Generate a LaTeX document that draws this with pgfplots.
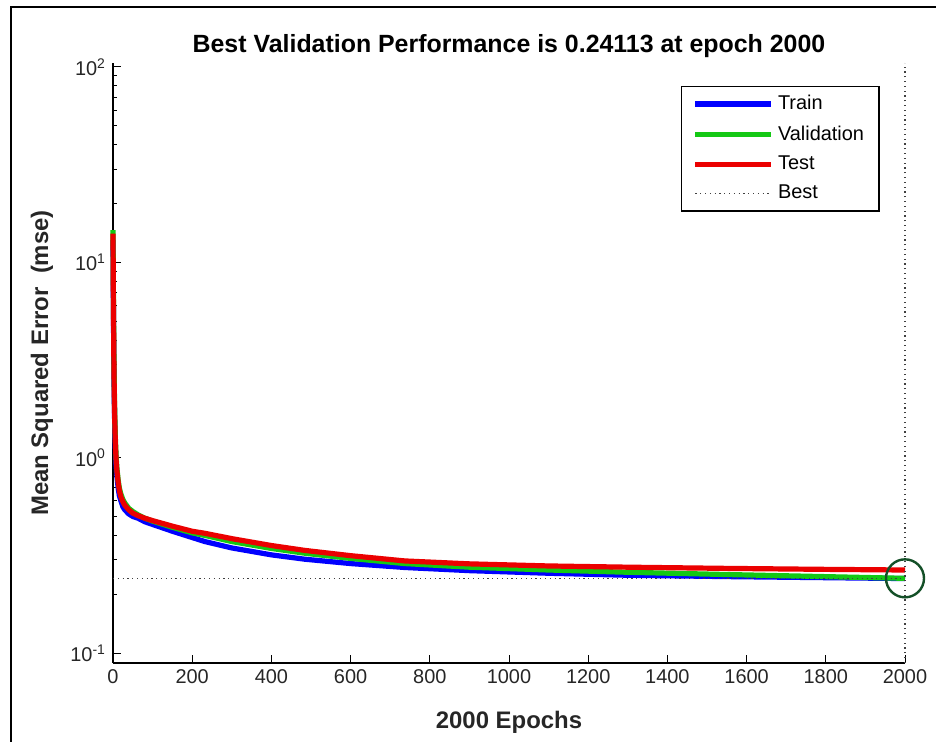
\documentclass[border=0pt]{standalone}
\usepackage{fontspec}
\setmainfont{Liberation Sans}
\usepackage{pgfplots}
\pgfplotsset{compat=1.18}
\usetikzlibrary{calc}
\definecolor{trainblue}{RGB}{0,0,255}
\definecolor{valgreen}{RGB}{20,200,20}
\definecolor{testred}{RGB}{235,0,0}
\definecolor{bestgreen}{RGB}{20,80,40}
\definecolor{ticktext}{RGB}{38,38,38}

\begin{document}
\begin{tikzpicture}
\begin{axis}[
  scale only axis, width=396bp, height=300bp,
  ymode=log, xmin=0, xmax=2000, ymin=0.0889, ymax=104.7,
  clip=false,
  axis x line=bottom, axis y line=left,
  axis line style={-, line width=0.6bp},
  tick align=inside, major tick length=4bp, minor tick length=2.2bp,
  every tick/.style={black, line width=0.5bp},
  xtick={0,200,...,2000},
  ytick={0.1,1,10,100},
  minor ytick={0.2,0.3,0.4,0.5,0.6,0.7,0.8,0.9,2,3,4,5,6,7,8,9,20,30,40,50,60,70,80,90},
  yticklabels={10\textsuperscript{-1},10\textsuperscript{0},10\textsuperscript{1},10\textsuperscript{2}},
  /pgf/number format/assume math mode=true,
  /pgf/number format/1000 sep={},
  tick label style={font=\fontsize{10}{12}\selectfont, text=ticktext},
  every axis title shift=0pt,
  title={Best Validation Performance is 0.24113 at epoch 2000},
  title style={font=\fontsize{12.5}{15}\selectfont\bfseries, at={(axis description cs:0.5,1.0167)}, anchor=base},
  xlabel={2000 Epochs},
  ylabel={Mean Squared Error\ \ (mse)},
  label style={font=\fontsize{12}{14}\selectfont\bfseries, text=ticktext},
  xlabel style={at={(axis description cs:0.5,-0.0983)}, anchor=center},
  ylabel style={at={(axis description cs:-0.0896,0.5)}, anchor=center},
  legend style={at={(axis description cs:0.968,0.962)}, anchor=north east,
    draw=black, line width=0.6bp, font=\fontsize{10}{12}\selectfont,
    inner xsep=5.5bp, inner ysep=2.5bp, row sep=2.4bp},
  legend cell align=left,
  legend image code/.code={\draw[#1] (0bp,0bp) -- (38bp,0bp);},
]
\coordinate (ll) at (rel axis cs:0,0);

% train
\addplot[trainblue, line width=2.6bp] coordinates {
(0,13) (1,6) (2,3.2) (3,2.1) (4,1.6) (5,1.3) (6,1.1) (8,0.9) (10,0.8)
(13,0.7) (16,0.64) (20,0.6) (25,0.56) (30,0.54) (40,0.515) (50,0.5)
(63,0.49) (80,0.47) (100,0.455) (150,0.42) (200,0.39) (232,0.372)
(300,0.345) (400,0.318) (485,0.302) (600,0.287) (737,0.274) (900,0.264)
(1100,0.256) (1300,0.25) (1558,0.246) (1800,0.243) (2000,0.2405)};
\addlegendentry{Train}

% validation
\addplot[valgreen, line width=2.6bp] coordinates {
(0,14.6) (1,7) (2,3.8) (3,2.5) (4,1.85) (5,1.5) (6,1.25) (8,1.0) (10,0.88)
(13,0.77) (16,0.7) (20,0.65) (25,0.61) (30,0.585) (40,0.55) (50,0.53)
(63,0.51) (80,0.49) (100,0.473) (150,0.44) (200,0.412) (232,0.4)
(300,0.372) (400,0.343) (485,0.324) (600,0.305) (737,0.287) (900,0.275)
(1100,0.266) (1300,0.259) (1558,0.252) (1800,0.246) (2000,0.24113)};
\addlegendentry{Validation}

% test
\addplot[testred, line width=2.6bp] coordinates {
(0,14) (1,6.5) (2,3.5) (3,2.3) (4,1.7) (5,1.4) (6,1.18) (8,0.96) (10,0.85)
(13,0.75) (16,0.68) (20,0.63) (25,0.595) (30,0.57) (40,0.54) (50,0.52)
(63,0.505) (80,0.49) (100,0.476) (150,0.446) (200,0.42) (232,0.41)
(300,0.385) (400,0.355) (485,0.335) (600,0.315) (737,0.296) (900,0.286)
(1100,0.279) (1300,0.275) (1558,0.271) (1800,0.268) (2000,0.266)};
\addlegendentry{Test}

% best
\addplot[black!75, line width=0.6bp, dash pattern=on 0.6bp off 1.8bp] coordinates {(0,0.24113) (2000,0.24113)};
\addlegendentry{Best}
\addplot[black!75, line width=0.6bp, dash pattern=on 0.6bp off 1.8bp, forget plot] coordinates {(2000,0.0889) (2000,104.7)};
\addplot[bestgreen, only marks, mark=o, mark size=9.5bp, mark options={line width=1.2bp}, forget plot] coordinates {(2000,0.24113)};
\end{axis}
\draw[line width=1bp] ($(ll)+(-51bp,-39.5bp)$) -- ($(ll)+(-51bp,328bp)$) -- ($(ll)+(411.5bp,328bp)$);
\pgfresetboundingbox
\useasboundingbox ($(ll)+(-56.5bp,-39.5bp)$) rectangle ++(468bp,371bp);
\end{tikzpicture}
\end{document}
